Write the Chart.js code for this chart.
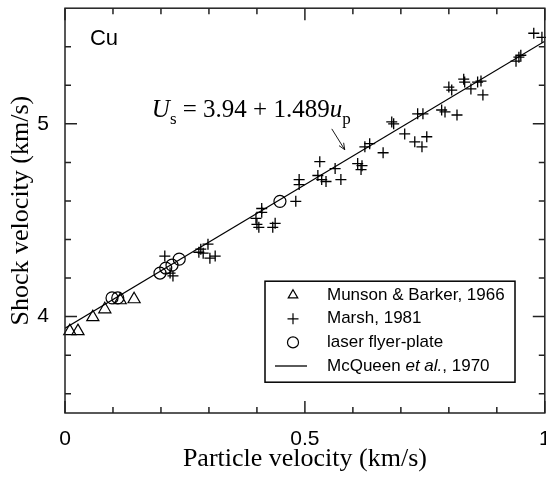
<!DOCTYPE html>
<html>
<head>
<meta charset="utf-8">
<script src="https://cdn.jsdelivr.net/npm/chart.js@4.4.1/dist/chart.umd.min.js"></script>
<style>
  html, body { margin: 0; padding: 0; background: #fff; overflow: hidden; }
  /* the canvas is a little wider than the window so the "1" tick label is cut at the edge */
  #wrap { width: 546px; height: 477px; overflow: hidden; }
</style>
</head>
<body>
<div id="wrap"><canvas id="myChart" width="553" height="477"></canvas></div>
<script>
// Munson & Barker, 1966 (triangles)
const munsonUp = [0.010, 0.027, 0.058, 0.083, 0.115, 0.144];
const munsonUs = [3.925, 3.925, 3.997, 4.038, 4.085, 4.090];

// Marsh, 1981 (crosses)
const marshUp = [0.208, 0.219, 0.225, 0.283, 0.279, 0.288, 0.298, 0.302, 0.313,
  0.398, 0.400, 0.404, 0.410, 0.410, 0.438, 0.433, 0.481, 0.488, 0.488,
  0.531, 0.527, 0.535, 0.544, 0.563, 0.575, 0.610, 0.619, 0.617, 0.625,
  0.635, 0.663, 0.681, 0.685, 0.708, 0.729, 0.744, 0.735, 0.746, 0.754,
  0.785, 0.792, 0.817, 0.800, 0.806, 0.831, 0.833, 0.846, 0.860, 0.867,
  0.871, 0.940, 0.946, 0.950, 0.977, 0.994];
const marshUs = [4.314, 4.226, 4.211, 4.350, 4.334, 4.329, 4.376, 4.303, 4.314,
  4.510, 4.479, 4.463, 4.561, 4.541, 4.484, 4.463, 4.598, 4.711, 4.685,
  4.804, 4.732, 4.711, 4.701, 4.768, 4.711, 4.794, 4.783, 4.763, 4.881,
  4.897, 4.850, 5.010, 5.000, 4.948, 4.907, 4.881, 5.052, 5.052, 4.933,
  5.072, 5.062, 5.046, 5.191, 5.175, 5.232, 5.217, 5.181, 5.217, 5.222,
  5.150, 5.325, 5.346, 5.356, 5.470, 5.449];

// laser flyer-plate (circles)
const laserUp = [0.098, 0.110, 0.198, 0.210, 0.223, 0.238, 0.448];
const laserUs = [4.097, 4.097, 4.226, 4.252, 4.267, 4.298, 4.598];

// McQueen et al., 1970 fit line end points
const fitUp = [0, 1];
const fitUs = [3.94, 5.429];

// ticks and labels
const xTicks = [0, 0.1, 0.2, 0.3, 0.4, 0.5, 0.6, 0.7, 0.8, 0.9, 1];
const xMajor = [0, 0.5, 1];
const xLabels = ['0', '0.5', '1'];
const yTicks = [3.6, 3.8, 4, 4.2, 4.4, 4.6, 4.8, 5, 5.2, 5.4];
const yMajor = [4, 5];
const yLabels = ['4', '5'];

const toPoints = (xs, ys) => xs.map((v, i) => ({ x: v, y: ys[i] }));

// Inward tick marks on all four sides plus the frame
const frameTicks = {
    id: 'frameTicks',
    afterDraw(chart) {
        const { ctx, chartArea: a, scales: { x, y } } = chart;
        ctx.save();
        ctx.strokeStyle = '#222';
        ctx.lineWidth = 1.5;
        ctx.beginPath();
        xTicks.forEach(v => {
            const px = x.getPixelForValue(v);
            const len = xMajor.includes(v) ? 12 : 6;
            ctx.moveTo(px, a.bottom); ctx.lineTo(px, a.bottom - len);
            ctx.moveTo(px, a.top); ctx.lineTo(px, a.top + len);
        });
        yTicks.forEach(v => {
            const py = y.getPixelForValue(v);
            const len = yMajor.includes(v) ? 12 : 6;
            ctx.moveTo(a.left, py); ctx.lineTo(a.left + len, py);
            ctx.moveTo(a.right, py); ctx.lineTo(a.right - len, py);
        });
        ctx.stroke();
        ctx.strokeRect(a.left, a.top, a.right - a.left, a.bottom - a.top);
        ctx.restore();
    }
};

// "Cu", fit equation with arrow, and the boxed legend
const notes = {
    id: 'notes',
    afterDraw(chart) {
        const { ctx, chartArea: a, scales: { x, y } } = chart;
        ctx.save();
        ctx.fillStyle = '#000';
        ctx.textBaseline = 'alphabetic';

        // Cu
        ctx.font = '22px "Liberation Sans"';
        ctx.fillText('Cu', x.getPixelForValue(0.052), y.getPixelForValue(5.408));

        // equation U_s = 3.94 + 1.489 u_p
        let ex = x.getPixelForValue(0.181);
        const ey = y.getPixelForValue(5.036);
        const parts = [
            ['italic 25px "Liberation Serif"', 'U', 0],
            ['17px "Liberation Serif"', 's', 7],
            ['25px "Liberation Serif"', ' = 3.94 + 1.489', 0],
            ['italic 25px "Liberation Serif"', 'u', 0],
            ['17px "Liberation Serif"', 'p', 7]
        ];
        parts.forEach(([f, t, dy]) => {
            ctx.font = f;
            ctx.fillText(t, ex, ey + dy);
            ex += ctx.measureText(t).width;
        });

        // arrow
        const ax0 = x.getPixelForValue(0.556), ay0 = y.getPixelForValue(4.974);
        const ax1 = x.getPixelForValue(0.583), ay1 = y.getPixelForValue(4.866);
        const ang = Math.atan2(ay1 - ay0, ax1 - ax0);
        ctx.strokeStyle = '#000';
        ctx.lineWidth = 0.9;
        ctx.beginPath();
        ctx.moveTo(ax0, ay0); ctx.lineTo(ax1, ay1);
        ctx.moveTo(ax1 - 7 * Math.cos(ang - 0.4), ay1 - 7 * Math.sin(ang - 0.4));
        ctx.lineTo(ax1, ay1);
        ctx.lineTo(ax1 - 7 * Math.cos(ang + 0.4), ay1 - 7 * Math.sin(ang + 0.4));
        ctx.stroke();

        // legend box
        const bx = a.left + 200, by = a.top + 273, bw = 250, bh = 101;
        ctx.lineWidth = 1.5;
        ctx.strokeRect(bx, by, bw, bh);
        const rowH = 23.6;
        chart.data.datasets.forEach((ds, i) => {
            const cy = by + 14 + i * rowH;
            const sx = bx + 28;
            ctx.strokeStyle = '#000';
            ctx.fillStyle = 'rgba(0,0,0,0)';
            if (ds.showLine) {
                ctx.lineWidth = 1.3;
                ctx.beginPath();
                ctx.moveTo(bx + 10, cy); ctx.lineTo(bx + 42, cy);
                ctx.stroke();
            } else {
                ctx.lineWidth = 1.2;
                Chart.helpers.drawPoint(ctx, {
                    pointStyle: ds.pointStyle, radius: 5.5, rotation: 0, borderWidth: 1.2
                }, sx, cy);
            }
            ctx.fillStyle = '#000';
            ctx.textBaseline = 'middle';
            let tx = bx + 62;
            const m = ds.label.match(/^(.*?)(et al\.)(.*)$/);
            const bits = m ? [[m[1], false], [m[2], true], [m[3], false]] : [[ds.label, false]];
            bits.forEach(([t, it]) => {
                ctx.font = (it ? 'italic ' : '') + '17px "Liberation Sans"';
                ctx.fillText(t, tx, cy);
                tx += ctx.measureText(t).width;
            });
        });
        ctx.restore();
    }
};

Chart.defaults.font.family = '"Liberation Sans", Arial, sans-serif';
Chart.defaults.color = '#000';

const ctx = document.getElementById('myChart').getContext('2d');
const myChart = new Chart(ctx, {
    type: 'scatter',
    data: {
        datasets: [{
            label: 'Munson & Barker, 1966',
            data: toPoints(munsonUp, munsonUs),
            pointStyle: 'triangle',
            pointRadius: 7,
            borderColor: '#000',
            backgroundColor: 'rgba(0,0,0,0)',
            pointBorderWidth: 1.2,
            clip: false
        }, {
            label: 'Marsh, 1981',
            data: toPoints(marshUp, marshUs),
            pointStyle: 'cross',
            pointRadius: 5.5,
            borderColor: '#000',
            backgroundColor: 'rgba(0,0,0,0)',
            pointBorderWidth: 1.3,
            clip: false
        }, {
            label: 'laser flyer-plate',
            data: toPoints(laserUp, laserUs),
            pointStyle: 'circle',
            pointRadius: 6,
            borderColor: '#000',
            backgroundColor: 'rgba(0,0,0,0)',
            pointBorderWidth: 1.2,
            clip: false
        }, {
            label: 'McQueen et al., 1970',
            data: toPoints(fitUp, fitUs),
            showLine: true,
            pointRadius: 0,
            borderColor: '#000',
            borderWidth: 1.2
        }]
    },
    options: {
        responsive: false,
        animation: false,
        events: [],
        layout: { padding: { top: 6, right: 8, left: 0, bottom: 0 } },
        plugins: { legend: { display: false }, tooltip: { enabled: false } },
        scales: {
            x: {
                type: 'linear',
                min: 0,
                max: 1,
                afterBuildTicks: s => { s.ticks = xTicks.map(v => ({ value: v })); },
                afterFit: s => { s.height = 64; s.paddingLeft = 0; s.paddingRight = 0; },
                grid: { display: false },
                border: { display: false },
                ticks: {
                    autoSkip: false,
                    maxRotation: 0,
                    padding: 6,
                    font: { size: 21 },
                    callback: v => { const i = xMajor.indexOf(v); return i >= 0 ? xLabels[i] : ''; }
                },
                title: {
                    display: true,
                    text: 'Particle velocity (km/s)',
                    font: { family: '"Liberation Serif", "Times New Roman", serif', size: 26 },
                    padding: { top: 0, bottom: 2 }
                }
            },
            y: {
                type: 'linear',
                min: 3.5,
                max: 5.6,
                afterBuildTicks: s => { s.ticks = yTicks.map(v => ({ value: v })); },
                afterFit: s => { s.width = 65; s.paddingTop = 0; s.paddingBottom = 0; },
                grid: { display: false },
                border: { display: false },
                ticks: {
                    autoSkip: false,
                    padding: 8,
                    font: { size: 21 },
                    callback: v => { const i = yMajor.indexOf(v); return i >= 0 ? yLabels[i] : ''; }
                },
                title: {
                    display: true,
                    text: 'Shock velocity (km/s)',
                    font: { family: '"Liberation Serif", "Times New Roman", serif', size: 26 },
                    padding: { top: 6, bottom: 0 }
                }
            }
        }
    },
    plugins: [frameTicks, notes]
});
</script>
</body>
</html>
